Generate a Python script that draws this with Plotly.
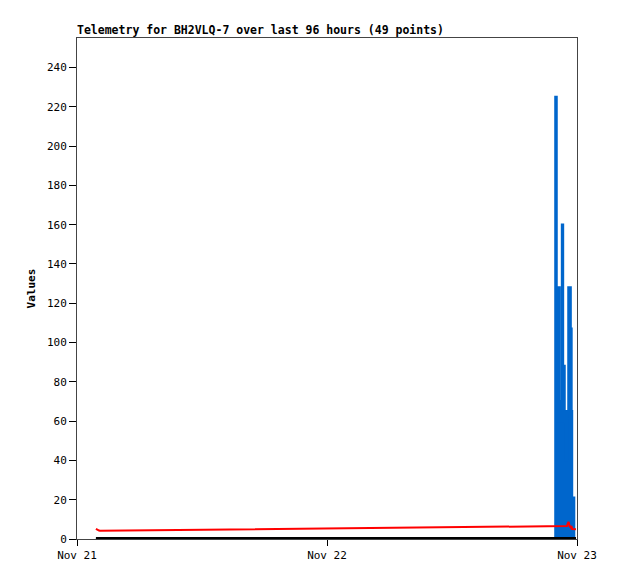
import plotly.graph_objects as go

# Start points (early Nov 21) and tail points (late Nov 22)
times = [
    "2024-11-21 01:49", "2024-11-21 01:55", "2024-11-21 02:07", "2024-11-21 02:12",
    "2024-11-22 21:50", "2024-11-22 21:56", "2024-11-22 22:02", "2024-11-22 22:05",
    "2024-11-22 22:08", "2024-11-22 22:13", "2024-11-22 22:19", "2024-11-22 22:22",
    "2024-11-22 22:25", "2024-11-22 22:34", "2024-11-22 22:39", "2024-11-22 22:45",
    "2024-11-22 22:48", "2024-11-22 22:51", "2024-11-22 22:54", "2024-11-22 22:57",
    "2024-11-22 22:59", "2024-11-22 23:02", "2024-11-22 23:05", "2024-11-22 23:11",
    "2024-11-22 23:14", "2024-11-22 23:17", "2024-11-22 23:23", "2024-11-22 23:25",
    "2024-11-22 23:28", "2024-11-22 23:31", "2024-11-22 23:34", "2024-11-22 23:40",
    "2024-11-22 23:43", "2024-11-22 23:54",
]
blue_vals = [
    0, 0, 0, 0,
    0, 225, 81, 81,
    60, 128, 62, 70,
    60, 160, 64, 88,
    60, 65, 62, 40,
    65, 40, 65, 128,
    64, 128, 64, 107,
    65, 6, 21, 21,
    0, 0,
]
red_vals = [
    5.2, 4.8, 4.3, 4.2,
    6.3, 6.4, 6.4, 6.5,
    6.5, 6.5, 6.6, 6.6,
    6.6, 6.6, 6.6, 6.6,
    6.6, 6.6, 6.6, 6.6,
    6.6, 6.6, 7.5, 8.7,
    8.0, 6.5, 6.0, 6.2,
    5.5, 5.8, 5.1, 5.1,
    5.0, 5.0,
]
black_vals = [0] * len(times)

y_ticks = list(range(0, 241, 20))
x_ticks = ["2024-11-21", "2024-11-22", "2024-11-23"]
x_tick_labels = ["Nov 21", "Nov 22", "Nov 23"]

font_fam = "DejaVu Sans Mono, Liberation Mono, monospace"

fig = go.Figure()
fig.add_trace(go.Scatter(x=times, y=blue_vals, mode="lines",
                         line=dict(color="#0066cc", width=2.5, shape="hv"),
                         fill="tozeroy", fillcolor="#0066cc", showlegend=False))
fig.add_trace(go.Scatter(x=times, y=black_vals, mode="lines",
                         line=dict(color="black", width=4), showlegend=False))
fig.add_trace(go.Scatter(x=times, y=red_vals, mode="lines",
                         line=dict(color="#ff0000", width=2), showlegend=False))

fig.update_layout(
    width=602, height=563,
    margin=dict(l=69, r=33, t=30, b=32, autoexpand=False),
    paper_bgcolor="white", plot_bgcolor="white",
    font=dict(family=font_fam, size=11, color="black"),
    title=dict(text="<b>Telemetry for BH2VLQ-7 over last 96 hours (49 points)</b>",
               xref="container", yref="container",
               x=69 / 602, xanchor="left", y=1 - 22 / 563, yanchor="middle",
               font=dict(family=font_fam, size=11.5, color="black")),
    showlegend=False,
)

fig.update_xaxes(
    type="date", range=["2024-11-21 00:00", "2024-11-23 00:00"],
    tickvals=x_ticks, ticktext=x_tick_labels, automargin=False,
    showgrid=False, zeroline=False,
    showline=True, linecolor="#444444", linewidth=1, mirror=True,
    ticks="outside", ticklen=6, tickcolor="black",
    tickfont=dict(family=font_fam, size=11),
)
fig.update_yaxes(
    range=[0, 255], tickvals=y_ticks, automargin=False,
    showgrid=False, zeroline=False,
    showline=True, linecolor="#444444", linewidth=1, mirror=True,
    ticks="outside", ticklen=7, tickcolor="black",
    tickfont=dict(family=font_fam, size=11),
    title=dict(text="<b>Values</b>", font=dict(family=font_fam, size=11), standoff=9),
)

fig.write_html("out.html")
